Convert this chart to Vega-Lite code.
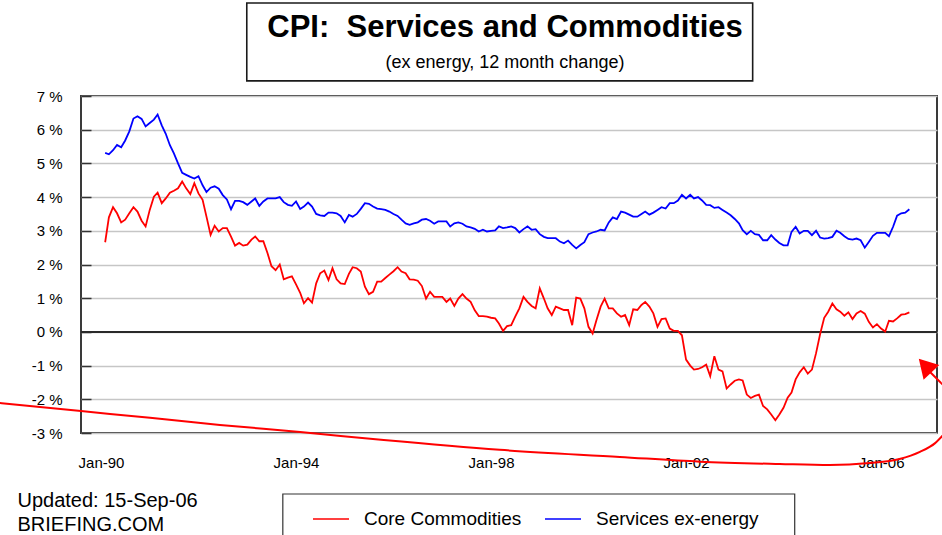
{
  "$schema": "https://vega.github.io/schema/vega-lite/v6.json",
  "width": 856,
  "height": 337,
  "autosize": {"type": "none"},
  "padding": {"left": 81, "top": 96, "right": 5, "bottom": 102},
  "background": "white",
  "config": {
    "font": "Liberation Sans",
    "view": {"stroke": "#3a3a3a", "strokeWidth": 2}
  },
  "title": {
    "text": "CPI:\u00a0 Services and Commodities",
    "subtitle": "(ex energy, 12 month change)",
    "anchor": "middle",
    "frame": "group",
    "dx": -4,
    "offset": -71,
    "font": "Liberation Sans",
    "fontSize": 31,
    "fontWeight": "bold",
    "color": "black",
    "subtitleFont": "Liberation Sans",
    "subtitleFontSize": 18,
    "subtitleColor": "black",
    "subtitlePadding": 10
  },
  "encoding": {
    "x": {
      "field": "month", "type": "temporal",
      "scale": {"type": "utc", "domain": [{"year": 1989, "month": 8, "date": 4, "utc": true}, {"year": 2007, "month": 2, "date": 24, "utc": true}]},
      "axis": {
        "values": [
          {"year": 1990, "month": 1, "date": 1, "utc": true},
          {"year": 1994, "month": 1, "date": 1, "utc": true},
          {"year": 1998, "month": 1, "date": 1, "utc": true},
          {"year": 2002, "month": 1, "date": 1, "utc": true},
          {"year": 2006, "month": 1, "date": 1, "utc": true}
        ],
        "format": "%b-%y",
        "labelFontSize": 15,
        "labelColor": "black",
        "labelPadding": 22,
        "labelFlush": false,
        "ticks": false,
        "domain": false,
        "grid": false,
        "title": ["Updated: 15-Sep-06", "BRIEFING.COM"],
        "titleX": -64,
        "titleY": 57,
        "titleAlign": "left",
        "titleAnchor": "start",
        "titleBaseline": "top",
        "titleFontSize": 20,
        "titleFontWeight": "normal",
        "titleColor": "black",
        "titleLineHeight": 24
      }
    },
    "y": {
      "field": "value", "type": "quantitative",
      "scale": {"domain": [-3, 7], "nice": false, "zero": false},
      "axis": {
        "values": [-3, -2, -1, 0, 1, 2, 3, 4, 5, 6, 7],
        "labelExpr": "datum.value + ' %'",
        "labelFontSize": 15,
        "labelColor": "black",
        "labelPadding": 29,
        "tickSize": -10,
        "tickColor": "#333333",
        "tickWidth": 1.5,
        "domain": false,
        "grid": true,
        "gridColor": "#c6c6c6",
        "gridWidth": 1.5,
        "title": null
      }
    }
  },
  "layer": [
    {
      "data": {"values": [{"month": "1992-12-28", "month2": "2003-05-15", "value": 9.76, "value2": 7.45}]},
      "mark": {"type": "rect", "fill": "transparent", "stroke": "#1a1a1a", "strokeWidth": 1.6, "clip": false},
      "encoding": {"x2": {"field": "month2"}, "y2": {"field": "value2"}}
    },
    {
      "data": {"values": [{"month": "1993-09-24", "month2": "2004-03-25", "value": -4.81, "value2": -6.4}]},
      "mark": {"type": "rect", "fill": "transparent", "stroke": "#333333", "strokeWidth": 1.2, "clip": false},
      "encoding": {"x2": {"field": "month2"}, "y2": {"field": "value2"}}
    },
    {
      "data": {"values": [{"month": "1989-08-04", "value": 0}, {"month": "2007-02-24", "value": 0}]},
      "mark": {"type": "line", "color": "#2a2a2a", "strokeWidth": 2},
      "encoding": {}
    },
    {
      "data": {"values": [
        {"month": "1990-02", "Core Commodities": 2.66, "Services ex-energy": 5.31},
        {"month": "1990-03", "Core Commodities": 3.40, "Services ex-energy": 5.27},
        {"month": "1990-04", "Core Commodities": 3.70, "Services ex-energy": 5.39},
        {"month": "1990-05", "Core Commodities": 3.52, "Services ex-energy": 5.55},
        {"month": "1990-06", "Core Commodities": 3.25, "Services ex-energy": 5.48},
        {"month": "1990-07", "Core Commodities": 3.33, "Services ex-energy": 5.68},
        {"month": "1990-08", "Core Commodities": 3.52, "Services ex-energy": 5.95},
        {"month": "1990-09", "Core Commodities": 3.70, "Services ex-energy": 6.33},
        {"month": "1990-10", "Core Commodities": 3.57, "Services ex-energy": 6.40},
        {"month": "1990-11", "Core Commodities": 3.30, "Services ex-energy": 6.32},
        {"month": "1990-12", "Core Commodities": 3.13, "Services ex-energy": 6.10},
        {"month": "1991-01", "Core Commodities": 3.62, "Services ex-energy": 6.20},
        {"month": "1991-02", "Core Commodities": 4.01, "Services ex-energy": 6.30},
        {"month": "1991-03", "Core Commodities": 4.13, "Services ex-energy": 6.45},
        {"month": "1991-04", "Core Commodities": 3.82, "Services ex-energy": 6.13},
        {"month": "1991-05", "Core Commodities": 3.96, "Services ex-energy": 5.88},
        {"month": "1991-06", "Core Commodities": 4.13, "Services ex-energy": 5.54},
        {"month": "1991-07", "Core Commodities": 4.19, "Services ex-energy": 5.30},
        {"month": "1991-08", "Core Commodities": 4.26, "Services ex-energy": 5.00},
        {"month": "1991-09", "Core Commodities": 4.46, "Services ex-energy": 4.72},
        {"month": "1991-10", "Core Commodities": 4.26, "Services ex-energy": 4.66},
        {"month": "1991-11", "Core Commodities": 4.09, "Services ex-energy": 4.60},
        {"month": "1991-12", "Core Commodities": 4.41, "Services ex-energy": 4.55},
        {"month": "1992-01", "Core Commodities": 4.11, "Services ex-energy": 4.62},
        {"month": "1992-02", "Core Commodities": 3.92, "Services ex-energy": 4.35},
        {"month": "1992-03", "Core Commodities": 3.42, "Services ex-energy": 4.15},
        {"month": "1992-04", "Core Commodities": 2.88, "Services ex-energy": 4.28},
        {"month": "1992-05", "Core Commodities": 3.15, "Services ex-energy": 4.32},
        {"month": "1992-06", "Core Commodities": 2.98, "Services ex-energy": 4.25},
        {"month": "1992-07", "Core Commodities": 3.08, "Services ex-energy": 4.06},
        {"month": "1992-08", "Core Commodities": 3.08, "Services ex-energy": 3.93},
        {"month": "1992-09", "Core Commodities": 2.83, "Services ex-energy": 3.64},
        {"month": "1992-10", "Core Commodities": 2.56, "Services ex-energy": 3.89},
        {"month": "1992-11", "Core Commodities": 2.64, "Services ex-energy": 3.89},
        {"month": "1992-12", "Core Commodities": 2.56, "Services ex-energy": 3.85},
        {"month": "1993-01", "Core Commodities": 2.59, "Services ex-energy": 3.77},
        {"month": "1993-02", "Core Commodities": 2.74, "Services ex-energy": 3.87},
        {"month": "1993-03", "Core Commodities": 2.83, "Services ex-energy": 3.96},
        {"month": "1993-04", "Core Commodities": 2.69, "Services ex-energy": 3.74},
        {"month": "1993-05", "Core Commodities": 2.69, "Services ex-energy": 3.87},
        {"month": "1993-06", "Core Commodities": 2.34, "Services ex-energy": 3.96},
        {"month": "1993-07", "Core Commodities": 1.95, "Services ex-energy": 3.96},
        {"month": "1993-08", "Core Commodities": 1.83, "Services ex-energy": 3.96},
        {"month": "1993-09", "Core Commodities": 2.00, "Services ex-energy": 4.00},
        {"month": "1993-10", "Core Commodities": 1.56, "Services ex-energy": 3.85},
        {"month": "1993-11", "Core Commodities": 1.61, "Services ex-energy": 3.77},
        {"month": "1993-12", "Core Commodities": 1.65, "Services ex-energy": 3.74},
        {"month": "1994-01", "Core Commodities": 1.41, "Services ex-energy": 3.87},
        {"month": "1994-02", "Core Commodities": 1.16, "Services ex-energy": 3.65},
        {"month": "1994-03", "Core Commodities": 0.85, "Services ex-energy": 3.72},
        {"month": "1994-04", "Core Commodities": 1.00, "Services ex-energy": 3.84},
        {"month": "1994-05", "Core Commodities": 0.87, "Services ex-energy": 3.72},
        {"month": "1994-06", "Core Commodities": 1.44, "Services ex-energy": 3.50},
        {"month": "1994-07", "Core Commodities": 1.74, "Services ex-energy": 3.46},
        {"month": "1994-08", "Core Commodities": 1.82, "Services ex-energy": 3.44},
        {"month": "1994-09", "Core Commodities": 1.54, "Services ex-energy": 3.54},
        {"month": "1994-10", "Core Commodities": 1.89, "Services ex-energy": 3.54},
        {"month": "1994-11", "Core Commodities": 1.56, "Services ex-energy": 3.52},
        {"month": "1994-12", "Core Commodities": 1.44, "Services ex-energy": 3.44},
        {"month": "1995-01", "Core Commodities": 1.42, "Services ex-energy": 3.25},
        {"month": "1995-02", "Core Commodities": 1.72, "Services ex-energy": 3.47},
        {"month": "1995-03", "Core Commodities": 1.92, "Services ex-energy": 3.42},
        {"month": "1995-04", "Core Commodities": 1.89, "Services ex-energy": 3.50},
        {"month": "1995-05", "Core Commodities": 1.79, "Services ex-energy": 3.65},
        {"month": "1995-06", "Core Commodities": 1.34, "Services ex-energy": 3.82},
        {"month": "1995-07", "Core Commodities": 1.12, "Services ex-energy": 3.80},
        {"month": "1995-08", "Core Commodities": 1.19, "Services ex-energy": 3.72},
        {"month": "1995-09", "Core Commodities": 1.49, "Services ex-energy": 3.66},
        {"month": "1995-10", "Core Commodities": 1.49, "Services ex-energy": 3.64},
        {"month": "1995-11", "Core Commodities": 1.60, "Services ex-energy": 3.62},
        {"month": "1995-12", "Core Commodities": 1.70, "Services ex-energy": 3.57},
        {"month": "1996-01", "Core Commodities": 1.80, "Services ex-energy": 3.50},
        {"month": "1996-02", "Core Commodities": 1.92, "Services ex-energy": 3.44},
        {"month": "1996-03", "Core Commodities": 1.79, "Services ex-energy": 3.33},
        {"month": "1996-04", "Core Commodities": 1.74, "Services ex-energy": 3.22},
        {"month": "1996-05", "Core Commodities": 1.56, "Services ex-energy": 3.18},
        {"month": "1996-06", "Core Commodities": 1.55, "Services ex-energy": 3.22},
        {"month": "1996-07", "Core Commodities": 1.52, "Services ex-energy": 3.25},
        {"month": "1996-08", "Core Commodities": 1.36, "Services ex-energy": 3.33},
        {"month": "1996-09", "Core Commodities": 0.99, "Services ex-energy": 3.35},
        {"month": "1996-10", "Core Commodities": 1.19, "Services ex-energy": 3.30},
        {"month": "1996-11", "Core Commodities": 1.04, "Services ex-energy": 3.21},
        {"month": "1996-12", "Core Commodities": 1.04, "Services ex-energy": 3.28},
        {"month": "1997-01", "Core Commodities": 1.04, "Services ex-energy": 3.28},
        {"month": "1997-02", "Core Commodities": 0.89, "Services ex-energy": 3.28},
        {"month": "1997-03", "Core Commodities": 0.99, "Services ex-energy": 3.13},
        {"month": "1997-04", "Core Commodities": 0.77, "Services ex-energy": 3.22},
        {"month": "1997-05", "Core Commodities": 0.99, "Services ex-energy": 3.25},
        {"month": "1997-06", "Core Commodities": 1.12, "Services ex-energy": 3.21},
        {"month": "1997-07", "Core Commodities": 0.99, "Services ex-energy": 3.13},
        {"month": "1997-08", "Core Commodities": 0.89, "Services ex-energy": 3.10},
        {"month": "1997-09", "Core Commodities": 0.64, "Services ex-energy": 3.06},
        {"month": "1997-10", "Core Commodities": 0.47, "Services ex-energy": 2.98},
        {"month": "1997-11", "Core Commodities": 0.47, "Services ex-energy": 3.03},
        {"month": "1997-12", "Core Commodities": 0.45, "Services ex-energy": 2.98},
        {"month": "1998-01", "Core Commodities": 0.42, "Services ex-energy": 3.00},
        {"month": "1998-02", "Core Commodities": 0.40, "Services ex-energy": 3.01},
        {"month": "1998-03", "Core Commodities": 0.25, "Services ex-energy": 3.13},
        {"month": "1998-04", "Core Commodities": 0.03, "Services ex-energy": 3.08},
        {"month": "1998-05", "Core Commodities": 0.17, "Services ex-energy": 3.10},
        {"month": "1998-06", "Core Commodities": 0.20, "Services ex-energy": 3.13},
        {"month": "1998-07", "Core Commodities": 0.45, "Services ex-energy": 3.08},
        {"month": "1998-08", "Core Commodities": 0.70, "Services ex-energy": 2.95},
        {"month": "1998-09", "Core Commodities": 1.04, "Services ex-energy": 3.05},
        {"month": "1998-10", "Core Commodities": 0.89, "Services ex-energy": 3.13},
        {"month": "1998-11", "Core Commodities": 0.77, "Services ex-energy": 3.03},
        {"month": "1998-12", "Core Commodities": 0.70, "Services ex-energy": 3.05},
        {"month": "1999-01", "Core Commodities": 1.29, "Services ex-energy": 2.90},
        {"month": "1999-02", "Core Commodities": 0.99, "Services ex-energy": 2.82},
        {"month": "1999-03", "Core Commodities": 0.70, "Services ex-energy": 2.78},
        {"month": "1999-04", "Core Commodities": 0.50, "Services ex-energy": 2.78},
        {"month": "1999-05", "Core Commodities": 0.75, "Services ex-energy": 2.78},
        {"month": "1999-06", "Core Commodities": 0.70, "Services ex-energy": 2.68},
        {"month": "1999-07", "Core Commodities": 0.65, "Services ex-energy": 2.63},
        {"month": "1999-08", "Core Commodities": 0.65, "Services ex-energy": 2.71},
        {"month": "1999-09", "Core Commodities": 0.20, "Services ex-energy": 2.58},
        {"month": "1999-10", "Core Commodities": 1.02, "Services ex-energy": 2.48},
        {"month": "1999-11", "Core Commodities": 0.99, "Services ex-energy": 2.58},
        {"month": "1999-12", "Core Commodities": 0.70, "Services ex-energy": 2.66},
        {"month": "2000-01", "Core Commodities": 0.15, "Services ex-energy": 2.90},
        {"month": "2000-02", "Core Commodities": -0.05, "Services ex-energy": 2.95},
        {"month": "2000-03", "Core Commodities": 0.35, "Services ex-energy": 2.98},
        {"month": "2000-04", "Core Commodities": 0.75, "Services ex-energy": 3.03},
        {"month": "2000-05", "Core Commodities": 0.99, "Services ex-energy": 3.01},
        {"month": "2000-06", "Core Commodities": 0.70, "Services ex-energy": 3.25},
        {"month": "2000-07", "Core Commodities": 0.70, "Services ex-energy": 3.40},
        {"month": "2000-08", "Core Commodities": 0.55, "Services ex-energy": 3.35},
        {"month": "2000-09", "Core Commodities": 0.45, "Services ex-energy": 3.57},
        {"month": "2000-10", "Core Commodities": 0.50, "Services ex-energy": 3.54},
        {"month": "2000-11", "Core Commodities": 0.20, "Services ex-energy": 3.48},
        {"month": "2000-12", "Core Commodities": 0.67, "Services ex-energy": 3.42},
        {"month": "2001-01", "Core Commodities": 0.65, "Services ex-energy": 3.42},
        {"month": "2001-02", "Core Commodities": 0.80, "Services ex-energy": 3.50},
        {"month": "2001-03", "Core Commodities": 0.89, "Services ex-energy": 3.57},
        {"month": "2001-04", "Core Commodities": 0.75, "Services ex-energy": 3.48},
        {"month": "2001-05", "Core Commodities": 0.55, "Services ex-energy": 3.54},
        {"month": "2001-06", "Core Commodities": 0.15, "Services ex-energy": 3.62},
        {"month": "2001-07", "Core Commodities": 0.38, "Services ex-energy": 3.70},
        {"month": "2001-08", "Core Commodities": 0.40, "Services ex-energy": 3.66},
        {"month": "2001-09", "Core Commodities": 0.10, "Services ex-energy": 3.82},
        {"month": "2001-10", "Core Commodities": 0.03, "Services ex-energy": 3.82},
        {"month": "2001-11", "Core Commodities": 0.03, "Services ex-energy": 3.90},
        {"month": "2001-12", "Core Commodities": -0.10, "Services ex-energy": 4.07},
        {"month": "2002-01", "Core Commodities": -0.82, "Services ex-energy": 3.96},
        {"month": "2002-02", "Core Commodities": -1.00, "Services ex-energy": 4.07},
        {"month": "2002-03", "Core Commodities": -1.12, "Services ex-energy": 3.96},
        {"month": "2002-04", "Core Commodities": -1.10, "Services ex-energy": 4.00},
        {"month": "2002-05", "Core Commodities": -1.05, "Services ex-energy": 3.90},
        {"month": "2002-06", "Core Commodities": -0.97, "Services ex-energy": 3.77},
        {"month": "2002-07", "Core Commodities": -1.31, "Services ex-energy": 3.76},
        {"month": "2002-08", "Core Commodities": -0.72, "Services ex-energy": 3.68},
        {"month": "2002-09", "Core Commodities": -1.12, "Services ex-energy": 3.70},
        {"month": "2002-10", "Core Commodities": -1.17, "Services ex-energy": 3.62},
        {"month": "2002-11", "Core Commodities": -1.68, "Services ex-energy": 3.54},
        {"month": "2002-12", "Core Commodities": -1.56, "Services ex-energy": 3.46},
        {"month": "2003-01", "Core Commodities": -1.45, "Services ex-energy": 3.35},
        {"month": "2003-02", "Core Commodities": -1.41, "Services ex-energy": 3.22},
        {"month": "2003-03", "Core Commodities": -1.44, "Services ex-energy": 3.02},
        {"month": "2003-04", "Core Commodities": -1.86, "Services ex-energy": 2.90},
        {"month": "2003-05", "Core Commodities": -1.96, "Services ex-energy": 3.00},
        {"month": "2003-06", "Core Commodities": -1.90, "Services ex-energy": 2.90},
        {"month": "2003-07", "Core Commodities": -1.86, "Services ex-energy": 2.88},
        {"month": "2003-08", "Core Commodities": -2.20, "Services ex-energy": 2.72},
        {"month": "2003-09", "Core Commodities": -2.30, "Services ex-energy": 2.72},
        {"month": "2003-10", "Core Commodities": -2.45, "Services ex-energy": 2.87},
        {"month": "2003-11", "Core Commodities": -2.62, "Services ex-energy": 2.74},
        {"month": "2003-12", "Core Commodities": -2.45, "Services ex-energy": 2.64},
        {"month": "2004-01", "Core Commodities": -2.25, "Services ex-energy": 2.57},
        {"month": "2004-02", "Core Commodities": -1.95, "Services ex-energy": 2.57},
        {"month": "2004-03", "Core Commodities": -1.80, "Services ex-energy": 2.97},
        {"month": "2004-04", "Core Commodities": -1.41, "Services ex-energy": 3.12},
        {"month": "2004-05", "Core Commodities": -1.20, "Services ex-energy": 2.92},
        {"month": "2004-06", "Core Commodities": -1.05, "Services ex-energy": 3.00},
        {"month": "2004-07", "Core Commodities": -1.24, "Services ex-energy": 3.00},
        {"month": "2004-08", "Core Commodities": -1.12, "Services ex-energy": 2.87},
        {"month": "2004-09", "Core Commodities": -0.63, "Services ex-energy": 3.00},
        {"month": "2004-10", "Core Commodities": -0.07, "Services ex-energy": 2.80},
        {"month": "2004-11", "Core Commodities": 0.42, "Services ex-energy": 2.77},
        {"month": "2004-12", "Core Commodities": 0.60, "Services ex-energy": 2.78},
        {"month": "2005-01", "Core Commodities": 0.84, "Services ex-energy": 2.82},
        {"month": "2005-02", "Core Commodities": 0.67, "Services ex-energy": 3.00},
        {"month": "2005-03", "Core Commodities": 0.60, "Services ex-energy": 2.94},
        {"month": "2005-04", "Core Commodities": 0.48, "Services ex-energy": 2.84},
        {"month": "2005-05", "Core Commodities": 0.58, "Services ex-energy": 2.76},
        {"month": "2005-06", "Core Commodities": 0.38, "Services ex-energy": 2.74},
        {"month": "2005-07", "Core Commodities": 0.55, "Services ex-energy": 2.77},
        {"month": "2005-08", "Core Commodities": 0.62, "Services ex-energy": 2.72},
        {"month": "2005-09", "Core Commodities": 0.54, "Services ex-energy": 2.50},
        {"month": "2005-10", "Core Commodities": 0.30, "Services ex-energy": 2.67},
        {"month": "2005-11", "Core Commodities": 0.13, "Services ex-energy": 2.85},
        {"month": "2005-12", "Core Commodities": 0.23, "Services ex-energy": 2.94},
        {"month": "2006-01", "Core Commodities": 0.10, "Services ex-energy": 2.94},
        {"month": "2006-02", "Core Commodities": 0.01, "Services ex-energy": 2.94},
        {"month": "2006-03", "Core Commodities": 0.33, "Services ex-energy": 2.84},
        {"month": "2006-04", "Core Commodities": 0.31, "Services ex-energy": 3.12},
        {"month": "2006-05", "Core Commodities": 0.40, "Services ex-energy": 3.45},
        {"month": "2006-06", "Core Commodities": 0.51, "Services ex-energy": 3.52},
        {"month": "2006-07", "Core Commodities": 0.53, "Services ex-energy": 3.54},
        {"month": "2006-08", "Core Commodities": 0.58, "Services ex-energy": 3.64}
      ]},
      "transform": [{"fold": ["Core Commodities", "Services ex-energy"], "as": ["series", "value"]}],
      "mark": {"type": "line", "strokeWidth": 1.8},
      "encoding": {
        "color": {
          "field": "series", "type": "nominal",
          "scale": {"domain": ["Core Commodities", "Services ex-energy"], "range": ["#ff0000", "#0000ff"]},
          "legend": {
            "orient": "none",
            "legendX": 231,
            "legendY": 404,
            "direction": "horizontal",
            "title": null,
            "symbolType": "stroke",
            "symbolSize": 1296,
            "symbolStrokeWidth": 1.5,
            "labelFontSize": 19,
            "labelColor": "black",
            "labelOffset": 14,
            "columnPadding": 20,
            "padding": 0,
            "labelLimit": 300
          }
        }
      }
    },
    {
      "data": {"values": [
        {"month": "1987-12-04", "value": -2.11},
        {"month": "1988-10-01", "value": -2.23},
        {"month": "1989-08-04", "value": -2.35},
        {"month": "1991-01-03", "value": -2.55},
        {"month": "1992-06-10", "value": -2.76},
        {"month": "1994-02-01", "value": -2.97},
        {"month": "1995-10-20", "value": -3.21},
        {"month": "1998-03-07", "value": -3.50},
        {"month": "2000-08-23", "value": -3.71},
        {"month": "2002-04-13", "value": -3.85},
        {"month": "2003-12-04", "value": -3.92},
        {"month": "2004-12-13", "value": -3.95},
        {"month": "2005-10-07", "value": -3.89},
        {"month": "2006-05-19", "value": -3.77},
        {"month": "2006-10-19", "value": -3.56},
        {"month": "2007-02-10", "value": -3.30},
        {"month": "2007-05-15", "value": -2.91}
      ]},
      "mark": {"type": "line", "color": "#ff0000", "strokeWidth": 2, "interpolate": "monotone", "clip": false},
      "encoding": {}
    },
    {
      "data": {"values": [
        {"month": "2007-01-03", "value": -1.19},
        {"month": "2007-06-01", "value": -1.78}
      ]},
      "mark": {"type": "line", "color": "#ff0000", "strokeWidth": 2, "clip": false},
      "encoding": {}
    },
    {
      "data": {"values": [{"month": "2006-11-27", "value": -1.0}]},
      "mark": {"type": "point", "shape": "triangle-up", "filled": true, "color": "#ff0000", "opacity": 1, "size": 458, "angle": 317, "clip": false},
      "encoding": {}
    }
  ]
}
